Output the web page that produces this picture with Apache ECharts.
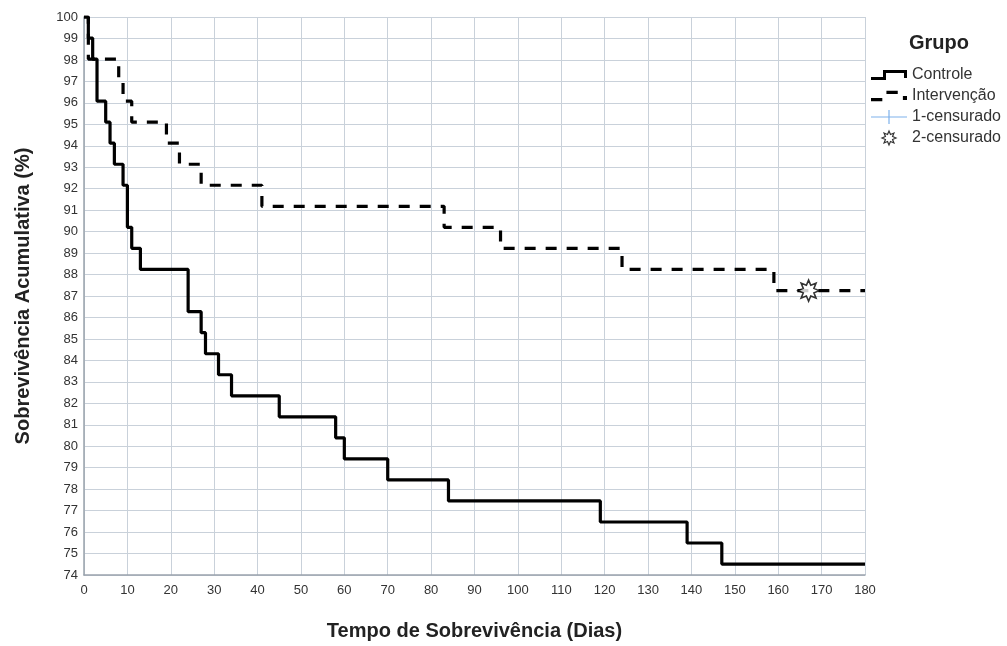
<!DOCTYPE html>
<html style="height: 100%">

<head>
  <meta charset="utf-8">
  <script type="text/javascript" src="https://cdn.jsdelivr.net/npm/echarts/dist/echarts.min.js"></script>
</head>

<body style="height: 100%; margin: 0; background: #fff">
  <div id="container" style="width: 1007px; height: 646px"></div>
  <script type="text/javascript">
    // Kaplan-Meier steps: day of event, cumulative survival after it
    var controlDays = [0, 1, 2, 3, 5, 6, 7, 9, 10, 11, 13, 24, 27, 28, 31, 34, 45, 58, 60, 70, 84, 119, 139, 147, 180];
    var controlSurv = [100, 99.02, 98.04, 96.08, 95.10, 94.12, 93.14, 92.16, 90.20, 89.22, 88.24, 86.27, 85.29, 84.31,
      83.33, 82.35, 81.37, 80.39, 79.41, 78.43, 77.45, 76.47, 75.49, 74.51, 74.51];
    var intervDays = [0, 1, 8, 9, 11, 19, 22, 27, 41, 83, 96, 124, 159, 180];
    var intervSurv = [100, 98.04, 97.06, 96.08, 95.10, 94.12, 93.14, 92.16, 91.18, 90.20, 89.22, 88.24, 87.25, 87.25];
    var censorDays = [167];
    var censorSurv = [87.25];
    var legendNames = ["Controle", "Intervenção", "1-censurado", "2-censurado"];

    function pairs(xs, ys) {
      var out = [];
      for (var i = 0; i < xs.length; i++) {
        out.push([xs[i], ys[i]]);
      }
      return out;
    }

    // 8 point star for the censored marks
    var starPath = "path://";
    for (var i = 0; i < 16; i++) {
      var r = i % 2 ? 5.5 : 10;
      var a = Math.PI * i / 8 - Math.PI / 2;
      starPath += (i == 0 ? "M" : "L") + (10 + r * Math.cos(a)).toFixed(2) + "," + (10 + r * Math.sin(a)).toFixed(2);
    }
    starPath += "Z";

    var iconControl = "path://M0,7L12,7L12,0L36,0L36,8L33,8L33,3L15,3L15,10L0,10Z";
    var iconInterv = "path://M0,7L11,7L11,10L0,10ZM15,0L26,0L26,3L15,3ZM31,5L35,5L35,9L31,9Z";
    var iconCross = "path://M0,6.4L36,6.4L36,7.6L0,7.6ZM17.4,0L18.6,0L18.6,14L17.4,14Z";

    var myChart = echarts.init(document.getElementById("container"));
    var font = "Liberation Sans, Arial, sans-serif";
    var gridColor = "#c9d1da";

    var option = {
      backgroundColor: "#fff",
      animation: false,
      textStyle: { fontFamily: font },
      title: {
        text: "Grupo",
        left: 904,
        top: 28,
        textStyle: { fontSize: 20, fontWeight: "bold", color: "#222", fontFamily: font }
      },
      legend: {
        orient: "vertical",
        left: 866,
        top: 62,
        itemWidth: 36,
        itemHeight: 14,
        itemGap: 5,
        textStyle: { fontSize: 16, color: "#333", fontFamily: font },
        data: [
          { name: legendNames[0], icon: iconControl },
          { name: legendNames[1], icon: iconInterv },
          { name: legendNames[2], icon: iconCross, itemStyle: { color: "#5d9ee6" } },
          { name: legendNames[3], icon: starPath, itemStyle: { color: "#fff", borderColor: "#000", borderWidth: 1.2 } }
        ]
      },
      grid: {
        left: 84,
        top: 17,
        width: 781,
        height: 558
      },
      xAxis: {
        type: "value",
        min: 0,
        max: 180,
        interval: 10,
        name: "Tempo de Sobrevivência (Dias)",
        nameLocation: "middle",
        nameGap: 46,
        nameTextStyle: { fontSize: 20, fontWeight: "bold", color: "#222" },
        axisLine: { lineStyle: { color: "#9aa3ad", width: 1.5 } },
        axisTick: { show: false },
        axisLabel: { fontSize: 13, color: "#333", margin: 9 },
        splitLine: { lineStyle: { color: gridColor, width: 1 } }
      },
      yAxis: {
        type: "value",
        min: 74,
        max: 100,
        interval: 1,
        name: "Sobrevivência Acumulativa (%)",
        nameLocation: "middle",
        nameGap: 51,
        nameTextStyle: { fontSize: 20, fontWeight: "bold", color: "#222" },
        axisLine: { show: true, lineStyle: { color: "#9aa3ad", width: 1.5 } },
        axisTick: { show: false },
        axisLabel: { fontSize: 13, color: "#333", margin: 6 },
        splitLine: { lineStyle: { color: gridColor, width: 1 } }
      },
      series: [
        {
          name: legendNames[0],
          type: "line",
          step: "end",
          symbol: "none",
          z: 4,
          itemStyle: { color: "#000" },
          lineStyle: { color: "#000", width: 3.2 },
          data: pairs(controlDays, controlSurv)
        },
        {
          name: legendNames[1],
          type: "line",
          step: "end",
          symbol: "none",
          z: 3,
          itemStyle: { color: "#000" },
          lineStyle: { color: "#000", width: 3.2, type: [11, 10] },
          data: pairs(intervDays, intervSurv)
        },
        {
          name: legendNames[2],
          type: "scatter",
          symbol: iconCross,
          itemStyle: { color: "#5d9ee6" },
          data: []
        },
        {
          name: legendNames[3],
          type: "scatter",
          symbol: starPath,
          symbolSize: 21,
          z: 5,
          itemStyle: { color: "#fff", borderColor: "#000", borderWidth: 1.6 },
          data: pairs(censorDays, censorSurv)
        }
      ]
    };
    myChart.setOption(option);
  </script>
</body>

</html>
